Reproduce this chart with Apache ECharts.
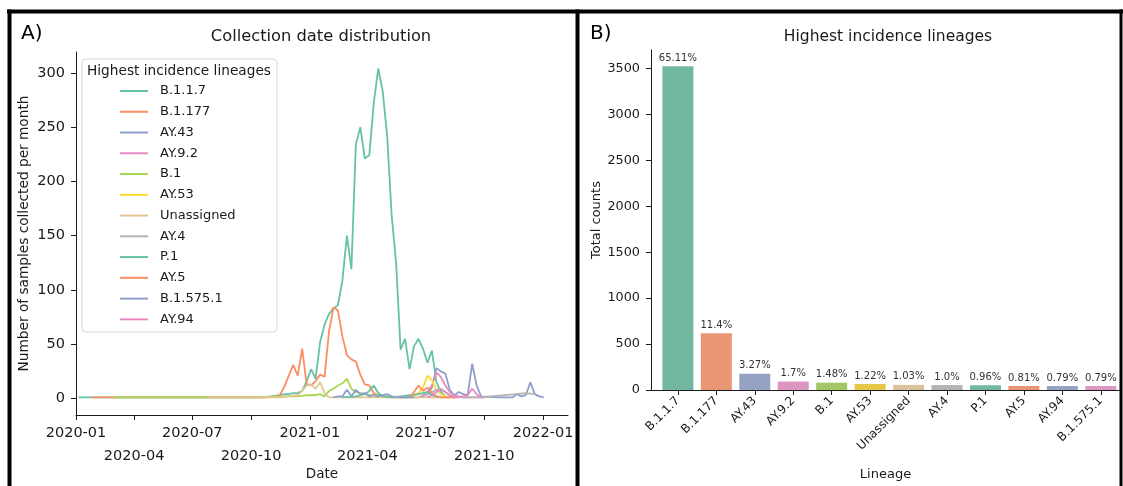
<!DOCTYPE html>
<html>
<head>
<meta charset="utf-8">
<script src="https://cdn.jsdelivr.net/npm/echarts@6/dist/echarts.min.js"></script>
<style>html,body{margin:0;padding:0;background:#fff;}#c{width:1123px;height:486px;}</style>
</head>
<body>
<div id="c"></div>
<script>
// ---------- Panel A data (weekly counts) ----------
const lineageNames = ['B.1.1.7','B.1.177','AY.43','AY.9.2','B.1','AY.53','Unassigned','AY.4','P.1','AY.5','B.1.575.1','AY.94'];
const B117 = [['2020-01-05',1],['2020-10-18',1],['2020-11-01',2],['2020-11-15',3],['2020-11-22',4],['2020-11-29',4],['2020-12-06',5],['2020-12-13',5],['2020-12-20',7],['2020-12-27',16],
 ['2021-01-03',27],['2021-01-10',18],['2021-01-17',52],['2021-01-24',68],['2021-01-31',78],['2021-02-07',83],['2021-02-14',86],['2021-02-21',109],['2021-02-28',150],['2021-03-07',119],
 ['2021-03-14',234],['2021-03-21',250],['2021-03-28',221],['2021-04-04',224],['2021-04-11',272],['2021-04-18',304],['2021-04-25',283],['2021-05-02',242],['2021-05-09',169],['2021-05-16',125],
 ['2021-05-23',45],['2021-05-30',55],['2021-06-06',27],['2021-06-13',48],['2021-06-20',55],['2021-06-27',46],['2021-07-04',33],['2021-07-11',44],['2021-07-18',15],['2021-07-25',6],['2021-08-01',2],['2021-08-15',1]];
const B1177 = [['2020-01-26',1],['2020-04-19',1],['2020-07-12',1],['2020-09-20',1],['2020-10-25',1],['2020-11-08',2],['2020-11-15',3],['2020-11-22',11],['2020-11-29',21],['2020-12-06',31],
 ['2020-12-13',21],['2020-12-20',46],['2020-12-27',13],['2021-01-03',12],['2021-01-10',16],['2021-01-17',22],['2021-01-24',20],['2021-01-31',62],['2021-02-07',84],['2021-02-14',81],
 ['2021-02-21',57],['2021-02-28',40],['2021-03-07',36],['2021-03-14',34],['2021-03-21',22],['2021-03-28',13],['2021-04-04',12],['2021-04-11',5],['2021-04-18',3],['2021-04-25',2],['2021-05-09',1],['2021-06-06',1]];
const AY43 = [['2021-06-20',1],['2021-06-27',2],['2021-07-04',4],['2021-07-11',10],['2021-07-18',28],['2021-07-25',25],['2021-08-01',23],['2021-08-08',8],['2021-08-15',3],['2021-08-22',6],
 ['2021-08-29',4],['2021-09-05',3],['2021-09-12',32],['2021-09-19',12],['2021-09-26',2],['2021-10-24',1],['2021-11-14',1],['2021-11-21',4],['2021-11-28',2],['2021-12-05',3],['2021-12-12',15],
 ['2021-12-19',4],['2021-12-26',2],['2022-01-02',1]];
const AY92 = [['2021-06-20',1],['2021-06-27',3],['2021-07-04',6],['2021-07-11',12],['2021-07-18',24],['2021-07-25',20],['2021-08-01',12],['2021-08-08',6],['2021-08-15',3],['2021-08-22',2],['2021-08-29',1],['2021-09-12',1],['2021-10-03',1]];
const B1 = [['2020-03-01',1],['2020-08-02',1],['2020-10-11',1],['2020-11-15',2],['2020-11-29',2],['2020-12-13',2],['2020-12-27',3],['2021-01-10',3],['2021-01-17',4],['2021-01-24',2],
 ['2021-01-31',7],['2021-02-07',9],['2021-02-14',12],['2021-02-21',14],['2021-02-28',18],['2021-03-07',9],['2021-03-14',6],['2021-03-21',5],['2021-03-28',4],['2021-04-04',3],['2021-04-18',3],['2021-05-02',2],['2021-05-23',1],['2021-06-20',1]];
const AY53 = [['2021-06-13',2],['2021-06-20',5],['2021-06-27',10],['2021-07-04',21],['2021-07-11',17],['2021-07-18',8],['2021-07-25',4],['2021-08-01',2],['2021-08-08',1]];
const UNASSIGNED = [['2020-07-26',1],['2020-09-06',1],['2020-10-18',1],['2020-11-15',1],['2020-11-29',2],['2020-12-13',3],['2020-12-20',7],['2020-12-27',12],['2021-01-03',13],['2021-01-10',9],
 ['2021-01-17',15],['2021-01-24',5],['2021-01-31',1],['2021-03-07',1],['2021-06-27',1],['2021-08-15',1]];
const AY4 = [['2021-06-27',2],['2021-07-04',4],['2021-07-11',6],['2021-07-18',8],['2021-07-25',9],['2021-08-01',6],['2021-08-08',3],['2021-08-15',2],['2021-08-29',1],['2021-09-26',1],['2021-12-05',5],['2021-12-19',4]];
const P1 = [['2021-02-21',1],['2021-03-14',2],['2021-03-28',4],['2021-04-04',7],['2021-04-11',12],['2021-04-18',5],['2021-04-25',2],['2021-05-09',1],['2021-05-23',2],['2021-06-06',3],
 ['2021-06-20',4],['2021-06-27',5],['2021-07-04',6],['2021-07-11',3],['2021-07-25',1]];
const AY5 = [['2021-06-06',1],['2021-06-13',6],['2021-06-20',12],['2021-06-27',7],['2021-07-04',10],['2021-07-11',5],['2021-07-18',2],['2021-07-25',1],['2021-08-08',1],['2021-08-22',1]];
const B15751 = [['2021-02-07',1],['2021-02-14',2],['2021-02-21',2],['2021-02-28',8],['2021-03-07',2],['2021-03-14',8],['2021-03-21',4],['2021-03-28',5],['2021-04-04',2],['2021-04-11',3],
 ['2021-04-18',2],['2021-04-25',3],['2021-05-02',4],['2021-05-09',2],['2021-05-23',1],['2021-06-13',1]];
const AY94 = [['2021-07-04',1],['2021-07-11',3],['2021-07-18',6],['2021-07-25',8],['2021-08-01',6],['2021-08-08',3],['2021-08-15',1],['2021-08-29',2],['2021-09-05',3],['2021-09-12',9],['2021-09-19',4],['2021-09-26',1]];
const dateTicks = ['2020-01','2020-04','2020-07','2020-10','2021-01','2021-04','2021-07','2021-10','2022-01'];
const dateTicksRow1 = ['2020-01','2020-07','2021-01','2021-07','2022-01'];
const dateTicksRow2 = ['2020-04','2020-10','2021-04','2021-10'];
const countTicks = [0,50,100,150,200,250,300];

// ---------- Panel B data ----------
const barLineages = ['B.1.1.7','B.1.177','AY.43','AY.9.2','B.1','AY.53','Unassigned','AY.4','P.1','AY.5','AY.94','B.1.575.1'];
const barCounts = [3526,617,177,92,80,66,56,54,52,44,43,43];
const barPct = ['65.11%','11.4%','3.27%','1.7%','1.48%','1.22%','1.03%','1.0%','0.96%','0.81%','0.79%','0.79%'];
const barTicks = [0,500,1000,1500,2000,2500,3000,3500];

// ---------- styling ----------
const lineColors = ['#66c2a5','#fc8d62','#8da0cb','#e78ac3','#a6d854','#ffd92f','#e5c494','#b3b3b3','#66c2a5','#fc8d62','#8da0cb','#e78ac3'];
const barColors = ['#71b7a1','#e99675','#95a3c3','#dc96c1','#a2c865','#e5c849','#dbc29e','#b3b3b3','#71b7a1','#e99675','#95a3c3','#dc96c1'];
const seriesData = [B117,B1177,AY43,AY92,B1,AY53,UNASSIGNED,AY4,P1,AY5,B15751,AY94];
const FONT = 'DejaVu Sans';
const INK = '#1a1a1a';
const pd = s => echarts.number.parseDate(s).getTime();
const ym = (v)=>{const d=new Date(v); return d.getFullYear()+'-'+String(d.getMonth()+1).padStart(2,'0');};

const chart = echarts.init(document.getElementById('c'), null, {renderer:'canvas'});

const axisLineStyle = {lineStyle:{color:INK, width:1}};
const lineSeries = seriesData.map((d,i)=>({
  name: lineageNames[i], type:'line', xAxisIndex:0, yAxisIndex:0,
  data: d.map(p=>[pd(p[0]), p[1]]), symbol:'none', showSymbol:false, animation:false,
  lineStyle:{color:lineColors[i], width:1.8}, itemStyle:{color:lineColors[i]}, z:2
}));
const xMin = pd('2020-01-01'), xMax = pd('2022-02-09');
const tickFont = {color:INK, fontFamily:FONT, fontSize:14.5, hideOverlap:false, showMinLabel:true, showMaxLabel:true, formatter:ym};

const option = {
  animation:false,
  backgroundColor:'#ffffff',
  grid:[
    {left:76, top:52, width:492, height:366},
    {left:651, top:50, width:469, height:344}
  ],
  xAxis:[
    {type:'value', gridIndex:0, min:xMin, max:xMax, scale:true, position:'bottom',
     axisLine:{onZero:false, ...axisLineStyle},
     axisTick:{show:true, length:5, customValues: dateTicks.map(t=>pd(t+'-01')), lineStyle:{color:INK}},
     axisLabel:{...tickFont, customValues: dateTicksRow1.map(t=>pd(t+'-01')), margin:11},
     splitLine:{show:false},
     name:'Date', nameLocation:'middle', nameGap:52, nameTextStyle:{color:INK, fontFamily:FONT, fontSize:13.5}},
    {type:'value', gridIndex:1, min:-0.7, max:11.5,
     axisLine:{onZero:false, ...axisLineStyle},
     axisTick:{show:true, length:5, customValues: barLineages.map((_, i)=>i), lineStyle:{color:INK}},
     axisLabel:{customValues: barLineages.map((_, i)=>i), rotate:45, color:INK, fontFamily:FONT, fontSize:12, margin:9, hideOverlap:false,
       showMinLabel:true, showMaxLabel:true,
       formatter:(v)=>barLineages[Math.round(v)]},
     splitLine:{show:false},
     name:'Lineage', nameLocation:'middle', nameGap:78, nameTextStyle:{color:INK, fontFamily:FONT, fontSize:13}},
    {type:'value', gridIndex:0, min:xMin, max:xMax, scale:true, position:'bottom',
     axisLine:{show:false, onZero:false}, axisTick:{show:false}, splitLine:{show:false},
     axisLabel:{...tickFont, customValues: dateTicksRow2.map(t=>pd(t+'-01')), margin:34}}
  ],
  yAxis:[
    {type:'value', gridIndex:0, min:-15.2, max:319.2,
     axisLine:{show:true, onZero:false, ...axisLineStyle},
     axisTick:{show:true, length:5, customValues: countTicks, lineStyle:{color:INK}},
     axisLabel:{customValues: countTicks, color:INK, fontFamily:FONT, fontSize:14.5, margin:11, showMinLabel:true, showMaxLabel:true, formatter:(v)=>String(v)},
     splitLine:{show:false},
     name:'Number of samples collected per month', nameLocation:'middle', nameRotate:90, nameGap:45,
     nameTextStyle:{color:INK, fontFamily:FONT, fontSize:13.7}},
    {type:'value', gridIndex:1, min:0, max:3702,
     axisLine:{show:true, onZero:false, ...axisLineStyle},
     axisTick:{show:true, length:5, customValues: barTicks, lineStyle:{color:INK}},
     axisLabel:{customValues: barTicks, color:INK, fontFamily:FONT, fontSize:12.8, margin:11, showMinLabel:true, showMaxLabel:true, formatter:(v)=>String(v)},
     splitLine:{show:false},
     name:'Total counts', nameLocation:'middle', nameRotate:90, nameGap:48,
     nameTextStyle:{color:INK, fontFamily:FONT, fontSize:13}}
  ],
  legend:{
    orient:'vertical', left:115, top:79, padding:5, itemWidth:28, itemHeight:2, itemGap:6.76, icon:'rect',
    selectedMode:false, data: lineageNames, z:10,
    textStyle:{color:INK, fontFamily:FONT, fontSize:13, lineHeight:14, padding:[0,0,0,7]}
  },
  graphic:[
    {type:'rect', z:5, shape:{x:82, y:59, width:195, height:273, r:4}, style:{fill:'rgba(255,255,255,0.9)', stroke:'#d6d6d6', lineWidth:1}},
    {type:'text', z:11, x:87, y:71, style:{text:'Highest incidence lineages', fill:INK, font:'13.7px "DejaVu Sans"', align:'left', verticalAlign:'middle'}},
    {type:'text', z:11, x:321, y:37, style:{text:'Collection date distribution', fill:INK, font:'16.3px "DejaVu Sans"', align:'center', verticalAlign:'middle'}},
    {type:'text', z:11, x:888, y:37, style:{text:'Highest incidence lineages', fill:INK, font:'15.5px "DejaVu Sans"', align:'center', verticalAlign:'middle'}},
    {type:'text', z:11, x:21, y:34, style:{text:'A)', fill:'#000', font:'20px "DejaVu Sans"', align:'left', verticalAlign:'middle'}},
    {type:'text', z:11, x:590, y:34, style:{text:'B)', fill:'#000', font:'20px "DejaVu Sans"', align:'left', verticalAlign:'middle'}},
    {type:'line', z:12, shape:{x1:7, y1:11.5, x2:1123, y2:11.5}, style:{stroke:'#000', lineWidth:4}},
    {type:'line', z:12, shape:{x1:9.5, y1:9.5, x2:9.5, y2:486}, style:{stroke:'#000', lineWidth:4}},
    {type:'line', z:12, shape:{x1:577.5, y1:9.5, x2:577.5, y2:486}, style:{stroke:'#000', lineWidth:4}},
    {type:'line', z:12, shape:{x1:1121, y1:9.5, x2:1121, y2:486}, style:{stroke:'#000', lineWidth:3}}
  ],
  series: lineSeries.concat([{
    type:'bar', xAxisIndex:1, yAxisIndex:1, barWidth:31, animation:false,
    data: barCounts.map((v,i)=>({value:[i,v], itemStyle:{color:barColors[i]}})),
    label:{show:true, position:'top', distance:3, color:'#333', fontFamily:FONT, fontSize:10,
      formatter:(p)=>barPct[p.dataIndex]}
  }])
};
chart.setOption(option);
</script>
</body>
</html>
